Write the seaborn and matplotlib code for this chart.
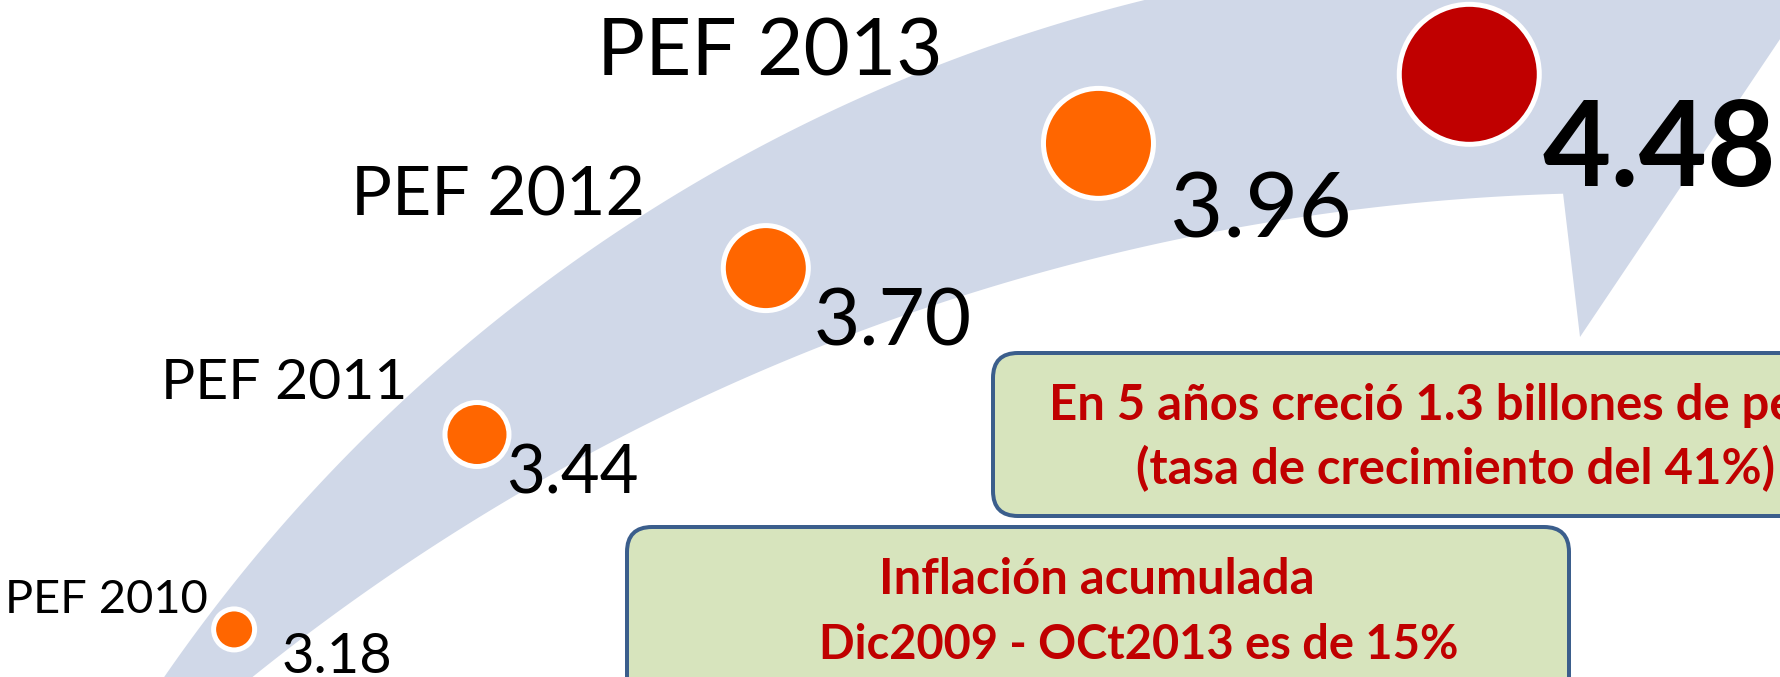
import numpy as np
import pandas as pd
import seaborn as sns
import matplotlib.pyplot as plt
from matplotlib.patches import Polygon, FancyBboxPatch

# data
years = [2010, 2011, 2012, 2013, 2014]
values = [3.18, 3.44, 3.70, 3.96, 4.48]
labels = ["PEF 2010", "PEF 2011", "PEF 2012", "PEF 2013"]
box_top = ["En 5 años creció 1.3 billones de pesos", "(tasa de crecimiento del 41%)"]
box_bottom = ["Inflación acumulada", "Dic2009 - OCt2013 es de 15%"]

# colours
ORANGE = "#FF6600"
RED = "#C00000"
BAND = "#D0D8E8"
BOX_FILL = "#D7E4BD"
BOX_EDGE = "#3B5E8C"

# layout (pixel space of the slide, y down)
outer_edge = np.array([(168, 677), (248, 560), (380, 420), (447, 360), (500, 320), (944, 67), (1133, 0)])
inner_edge = np.array([(258, 677), (407, 560), (490, 510), (660, 410), (786, 360), (1010, 293), (1300, 216), (1563, 191)])
arrow_tip = (1580, 337)
arc_center, arc_radius = (1667, 2166), 2101
marker_radius = [20.5, 32, 42.5, 55, 70]
label_pos = [(208, 613), (407, 399), (645, 215), (943, 76)]
label_px = [47, 57, 68, 80]
value_pos = [(282, 673), (506, 494), (814, 345), (1170, 237), (1543, 186)]
value_px = [56, 67, 80, 92, 118]

PT = 0.72  # points per pixel at dpi 100


def fit_circle(pts):
    x, y = pts[:, 0].astype(float), pts[:, 1].astype(float)
    A = np.c_[x, y, np.ones_like(x)]
    D, E, F = np.linalg.lstsq(A, -(x**2 + y**2), rcond=None)[0]
    cx, cy = -D / 2, -E / 2
    return cx, cy, np.sqrt(cx**2 + cy**2 - F)


def arc_points(pts, ext0=0.0, ext1=0.0, n=200):
    cx, cy, r = fit_circle(pts)
    a0 = np.arctan2(pts[0, 1] - cy, pts[0, 0] - cx) - ext0
    a1 = np.arctan2(pts[-1, 1] - cy, pts[-1, 0] - cx) + ext1
    t = np.linspace(a0, a1, n)
    return np.c_[cx + r * np.cos(t), cy + r * np.sin(t)]


plt.rcParams['font.family'] = ['Lato', 'DejaVu Sans']

fig = plt.figure(figsize=(17.81, 6.77), dpi=100)
ax = fig.add_axes([0, 0, 1, 1])

# curved arrow band
outer = arc_points(outer_edge, 0.03, 0.03)
inner = arc_points(inner_edge, 0.03, 0.0)
band = np.vstack([outer, [(1860, -80)], [arrow_tip], inner[::-1]])
ax.add_patch(Polygon(band, closed=True, facecolor=BAND, edgecolor="none", zorder=1))

# text boxes
for (x0, y0, w, h) in [(993, 353, 960, 163), (627, 527, 942, 200)]:
    ax.add_patch(FancyBboxPatch((x0, y0), w, h, boxstyle="round,pad=0,rounding_size=25",
                                facecolor=BOX_FILL, edgecolor=BOX_EDGE, linewidth=4 * PT, zorder=2))

# points placed along the arc
idx = np.arange(len(years))
ang = np.radians(-133.0 + 8.2 * idx + 0.3 * idx**2)
df = pd.DataFrame({
    "year": years,
    "value": values,
    "x": arc_center[0] + arc_radius * np.cos(ang),
    "y": arc_center[1] + arc_radius * np.sin(ang),
})
sizes = [(2 * r * PT) ** 2 for r in marker_radius]
sns.scatterplot(data=df, x="x", y="y", hue="year",
                palette=[ORANGE, ORANGE, ORANGE, ORANGE, RED],
                s=sizes, edgecolor="white", linewidth=5 * PT,
                legend=False, ax=ax, zorder=3)

for lab, (x, y), px in zip(labels, label_pos, label_px):
    ax.text(x, y, lab, ha="right", va="baseline", fontsize=px * PT, color="black", zorder=4)

for i, (v, (x, y), px) in enumerate(zip(values, value_pos, value_px)):
    bold = i == len(values) - 1
    ax.text(x, y, f"{v:.2f}", ha="left", va="baseline", fontsize=px * PT,
            fontweight="bold" if bold else "normal", color="black", zorder=4)

ax.text(1049, 420, box_top[0], ha="left", va="baseline", fontsize=49 * PT,
        fontweight="bold", color=RED, zorder=4)
ax.text(1136, 484, box_top[1], ha="left", va="baseline", fontsize=49 * PT,
        fontweight="bold", color=RED, zorder=4)
ax.text(1097, 594, box_bottom[0], ha="center", va="baseline", fontsize=49 * PT,
        fontweight="bold", color=RED, zorder=4)
ax.text(1139, 659, box_bottom[1], ha="center", va="baseline", fontsize=47 * PT,
        fontweight="bold", color=RED, zorder=4)

ax.set_xlim(0, 1781)
ax.set_ylim(677, 0)
ax.axis("off")

fig.savefig("out.png", dpi=100)
